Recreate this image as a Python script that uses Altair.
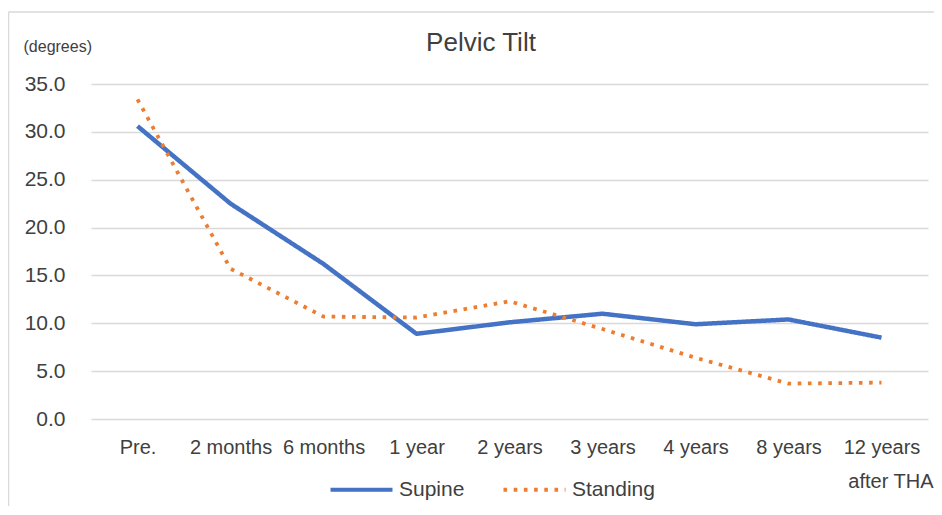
import altair as alt
import pandas as pd

categories = ["Pre.", "2 months", "6 months", "1 year", "2 years",
              "3 years", "4 years", "8 years", "12 years"]
supine = [30.6, 22.5, 16.2, 8.9, 10.1, 11.0, 9.9, 10.4, 8.5]
standing = [33.4, 15.7, 10.7, 10.6, 12.3, 9.4, 6.4, 3.7, 3.8]
series_names = ["Supine", "Standing"]
series_colors = ["#4472C4", "#ED7D31"]
y_ticks = [0, 5, 10, 15, 20, 25, 30, 35]

rows = []
for name, vals in zip(series_names, [supine, standing]):
    for c, v in zip(categories, vals):
        rows.append({"time": c, "value": v, "series": name})
df = pd.DataFrame(rows)

W, H = 837, 335
FONT = "Liberation Sans"
TXT = "#404040"
BORDER = "#d9d9d9"

legend = alt.Legend(
    title=None, orient="none", legendX=237, legendY=372,
    direction="horizontal", symbolType="stroke", symbolSize=3844,
    symbolStrokeWidth=4.2, labelFontSize=21, labelOffset=4,
    columnPadding=30, padding=0, labelColor=TXT, labelFont=FONT,
)

lines = alt.Chart(df).mark_line(strokeCap="butt", strokeJoin="round").encode(
    x=alt.X(
        "time:N", sort=categories,
        scale=alt.Scale(type="point", padding=0.5),
        axis=alt.Axis(
            title="after THA", titleX=842, titleY=68, titleAlign="right",
            titleBaseline="alphabetic", titleFontSize=20, titleFontWeight="normal",
            labelAngle=0, labelFontSize=20, labelPadding=34,
            labelBaseline="alphabetic", labelOverlap=False,
            ticks=False, domain=False, grid=False,
        ),
    ),
    y=alt.Y(
        "value:Q",
        scale=alt.Scale(domain=[0, 35], nice=False),
        axis=alt.Axis(
            values=y_ticks, format=".1f",
            title="(degrees)", titleAngle=0, titleX=-68, titleY=-33,
            titleAlign="left", titleBaseline="alphabetic", titleFontSize=16,
            titleFontWeight="normal",
            labelFontSize=21, labelPadding=26, ticks=False, tickSize=0,
            domain=False, gridColor=BORDER, gridWidth=1.5,
        ),
    ),
    color=alt.Color(
        "series:N", sort=series_names,
        scale=alt.Scale(domain=series_names, range=series_colors),
        legend=legend,
    ),
    strokeDash=alt.StrokeDash(
        "series:N", sort=series_names,
        scale=alt.Scale(domain=series_names, range=[[1, 0], [3.6, 6.6]]),
        legend=legend,
    ),
    strokeWidth=alt.condition("datum.series == 'Supine'", alt.value(4.5), alt.value(3.8)),
)

one = pd.DataFrame({"a": [0]})
border_left = alt.Chart(one).mark_rule(color=BORDER, strokeWidth=1.5).encode(
    x=alt.value(-82.5), y=alt.value(-72), y2=alt.value(H + 100)
)
border_top = alt.Chart(one).mark_rule(color=BORDER, strokeWidth=1.5).encode(
    x=alt.value(-82.5), x2=alt.value(W + 20), y=alt.value(-72)
)

chart = alt.layer(border_left, border_top, lines).properties(
    width=W, height=H,
    title=alt.Title("Pelvic Tilt", fontSize=26, font=FONT, color=TXT,
                    fontWeight="normal", anchor="middle", dx=-28.5,
                    offset=0, dy=66, baseline="alphabetic"),
    padding={"left": 83, "top": 76, "right": 6, "bottom": 87},
    autosize=alt.AutoSizeParams(type="none"),
).configure_view(stroke=None).configure_axis(
    labelFont=FONT, titleFont=FONT, labelColor=TXT, titleColor=TXT
)

chart.save("out.html", embed_options={"renderer": "svg", "actions": False})
